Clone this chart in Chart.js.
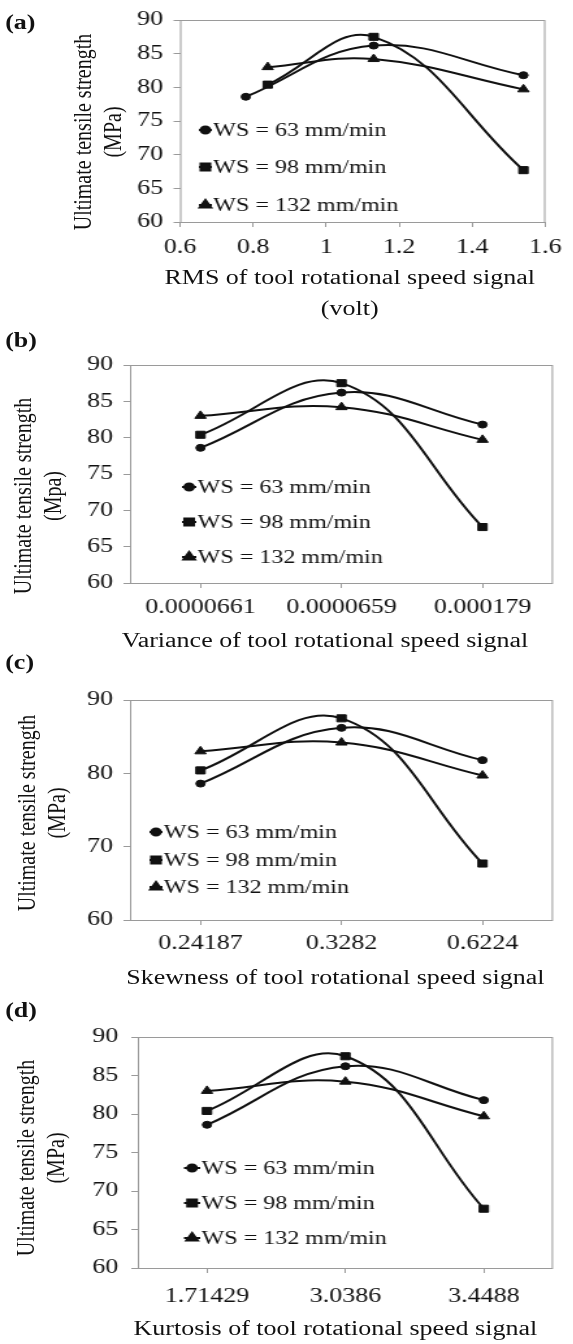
<!DOCTYPE html>
<html>
<head>
<meta charset="utf-8">
<script src="https://cdn.jsdelivr.net/npm/chart.js@4.4.1/dist/chart.umd.min.js"></script>
<style>
    html, body { margin: 0; padding: 0; background: #fff; }
    body { width: 573px; height: 1344px; overflow: hidden; position: relative; }
    /* la figura original esta estirada en horizontal, se dibuja en 441px y se escala */
    #hoja {
        position: absolute; left: 0; top: 0; width: 441px; height: 1344px;
        transform: scaleX(1.3); transform-origin: 0 0;
        font-family: "Liberation Serif", "Times New Roman", serif; color: #111;
    }
    .panel { position: absolute; left: 0; }
    .letra { position: absolute; font-weight: bold; font-size: 20px; line-height: 20px; }
    .xtitulo { position: absolute; width: 420px; margin-left: -210px; text-align: center; font-size: 20px; line-height: 31px; white-space: nowrap; }
    .ytitulo { position: absolute; width: 300px; text-align: center; font-size: 20px; line-height: 23px; white-space: nowrap; transform: translate(-50%, -50%) rotate(-90deg); }
</style>
</head>
<body>
<div id="hoja">
    <div class="letra" style="left:4px; top:12px;">(a)</div>
    <div class="letra" style="left:4px; top:330px;">(b)</div>
    <div class="letra" style="left:4px; top:652px;">(c)</div>
    <div class="letra" style="left:4px; top:1000px;">(d)</div>

    <div class="ytitulo" style="left:75px; top:132px;">Ultimate tensile strength<br>(MPa)</div>
    <div class="ytitulo" style="left:28.5px; top:496px;">Ultimate tensile strength<br>(Mpa)</div>
    <div class="ytitulo" style="left:32px; top:813px;">Ultimate tensile strength<br>(MPa)</div>
    <div class="ytitulo" style="left:30.5px; top:1158px;">Ultimate tensile strength<br>(MPa)</div>

    <div class="xtitulo" style="left:269px; top:261.5px;">RMS of tool rotational speed signal<br>(volt)</div>
    <div class="xtitulo" style="left:250px; top:624.5px;">Variance of tool rotational speed signal</div>
    <div class="xtitulo" style="left:258px; top:961.5px;">Skewness of tool rotational speed signal</div>
    <div class="xtitulo" style="left:258px; top:1312.5px;">Kurtosis of tool rotational speed signal</div>

    <div class="panel" style="top:0px;"><canvas id="graficoA" width="441" height="270"></canvas></div>
    <div class="panel" style="top:345px;"><canvas id="graficoB" width="441" height="280"></canvas></div>
    <div class="panel" style="top:680px;"><canvas id="graficoC" width="441" height="280"></canvas></div>
    <div class="panel" style="top:1015px;"><canvas id="graficoD" width="441" height="300"></canvas></div>
</div>

<script>
/* datos */
const seriesLabels = ["WS = 63 mm/min", "WS = 98 mm/min", "WS = 132 mm/min"];
const ws63 = [78.6, 86.2, 81.8];
const ws98 = [80.4, 87.5, 67.7];
const ws132 = [83.0, 84.2, 79.7];

const rmsWs63 = [0.78, 1.13, 1.54];
const rmsWs98 = [0.84, 1.13, 1.54];
const rmsWs132 = [0.84, 1.13, 1.54];

const varianceLabels = ["0.0000661", "0.0000659", "0.000179"];
const skewnessLabels = ["0.24187", "0.3282", "0.6224"];
const kurtosisLabels = ["1.71429", "3.0386", "3.4488"];

const rmsMin = 0.6, rmsMax = 1.6, rmsStep = 0.2;
const utsMin = 60, utsMax = 90;

const fuente = "'Liberation Serif', 'Times New Roman', serif";
const tinta = "#111";
const marcadores = ["circle", "rect", "triangle"];
const radios = [3.5, 5, 5];

/* marco gris alrededor del area del grafico */
const marcoPlugin = {
    id: "marco",
    beforeDatasetsDraw(chart) {
        const a = chart.chartArea;
        const ctx = chart.ctx;
        ctx.save();
        ctx.strokeStyle = "#9a9a9a";
        ctx.lineWidth = 1;
        ctx.strokeRect(a.left + 0.5, a.top + 0.5, a.right - a.left - 1, a.bottom - a.top);
        ctx.restore();
    },
};

/* leyenda dentro del grafico, como en la figura */
const leyendaPlugin = {
    id: "leyendaInterna",
    afterDraw(chart, args, opts) {
        const ctx = chart.ctx;
        ctx.save();
        chart.data.datasets.forEach((ds, i) => {
            const y = opts.filas[i];
            ctx.strokeStyle = tinta;
            ctx.lineWidth = 2;
            ctx.beginPath();
            ctx.moveTo(opts.x, y);
            ctx.lineTo(opts.texto - 1, y);
            ctx.stroke();
            ctx.fillStyle = tinta;
            Chart.helpers.drawPoint(ctx, { pointStyle: marcadores[i], radius: radios[i], rotation: 0, borderWidth: 1 },
                (opts.x + opts.texto - 1) / 2, y);
            ctx.font = "18.5px " + fuente;
            ctx.textBaseline = "middle";
            ctx.textAlign = "left";
            ctx.fillText(ds.label, opts.texto, y + 1);
        });
        ctx.restore();
    },
};

function serie(i, data) {
    return {
        label: seriesLabels[i],
        data: data,
        borderColor: tinta,
        backgroundColor: tinta,
        borderWidth: 2,
        pointStyle: marcadores[i],
        pointRadius: radios[i],
        pointBorderWidth: 1,
        tension: 0.4,
        fill: false,
    };
}

function ejeY(cfg, paso) {
    return {
        min: utsMin,
        max: utsMax,
        border: { display: false },
        grid: { drawOnChartArea: false, tickLength: 5, color: "#9a9a9a" },
        ticks: { stepSize: paso, padding: cfg.padY, color: tinta, font: { family: fuente, size: 20 } },
        afterFit: (scale) => { scale.width = cfg.izq; },
    };
}

function ejeX(cfg, extra) {
    return Object.assign({
        border: { display: false },
        grid: { drawOnChartArea: false, tickLength: 5, color: "#9a9a9a", offset: false },
        ticks: { padding: cfg.padX, color: tinta, maxRotation: 0, font: { family: fuente, size: 20 } },
        afterFit: (scale) => { scale.height = cfg.alto - cfg.abajo; },
    }, extra);
}

function crearGrafico(id, cfg, data, xExtra, paso) {
    new Chart(document.getElementById(id), {
        type: "line",
        data: data,
        options: {
            responsive: false,
            animation: false,
            events: [],
            layout: { padding: { left: 0, top: cfg.arriba, right: 441 - cfg.der, bottom: 0 } },
            plugins: {
                legend: { display: false },
                tooltip: { enabled: false },
                leyendaInterna: { x: cfg.legX, texto: cfg.legTexto, filas: cfg.filas },
            },
            scales: {
                x: ejeX(cfg, xExtra),
                y: ejeY(cfg, paso),
            },
        },
        plugins: [marcoPlugin, leyendaPlugin],
    });
}

/* (a) RMS: eje x numerico */
const cfgA = { alto: 270, arriba: 15, abajo: 222, izq: 138.5, der: 427, padX: 9, padY: 8,
    legX: 153, legTexto: 164, filas: [130, 167, 205] };
crearGrafico("graficoA", cfgA, {
    datasets: [
        serie(0, rmsWs63.map((x, k) => ({ x: x, y: ws63[k] }))),
        serie(1, rmsWs98.map((x, k) => ({ x: x, y: ws98[k] }))),
        serie(2, rmsWs132.map((x, k) => ({ x: x, y: ws132[k] }))),
    ],
}, {
    type: "linear", min: rmsMin, max: rmsMax,
    ticks: {
        stepSize: rmsStep, padding: cfgA.padX, color: tinta, maxRotation: 0,
        font: { family: fuente, size: 20 },
        callback: (v) => String(Number(v.toFixed(1))),
    },
}, 5);

/* (b) varianza */
const cfgB = { alto: 280, arriba: 18, abajo: 238, izq: 100, der: 425.4, padX: 8, padY: 8,
    legX: 140, legTexto: 152, filas: [142, 177, 212] };
crearGrafico("graficoB", cfgB, {
    labels: varianceLabels,
    datasets: [serie(0, ws63), serie(1, ws98), serie(2, ws132)],
}, { type: "category", offset: true }, 5);

/* (c) asimetria */
const cfgC = { alto: 280, arriba: 15, abajo: 240, izq: 100, der: 425.4, padX: 7, padY: 8,
    legX: 115, legTexto: 126, filas: [152, 180, 207] };
crearGrafico("graficoC", cfgC, {
    labels: skewnessLabels,
    datasets: [serie(0, ws63), serie(1, ws98), serie(2, ws132)],
}, { type: "category", offset: true }, 10);

/* (d) curtosis */
const cfgD = { alto: 300, arriba: 17, abajo: 253, izq: 106, der: 425.4, padX: 12, padY: 10,
    legX: 141.5, legTexto: 155, filas: [153, 188, 223] };
crearGrafico("graficoD", cfgD, {
    labels: kurtosisLabels,
    datasets: [serie(0, ws63), serie(1, ws98), serie(2, ws132)],
}, { type: "category", offset: true }, 5);
</script>
</body>
</html>
